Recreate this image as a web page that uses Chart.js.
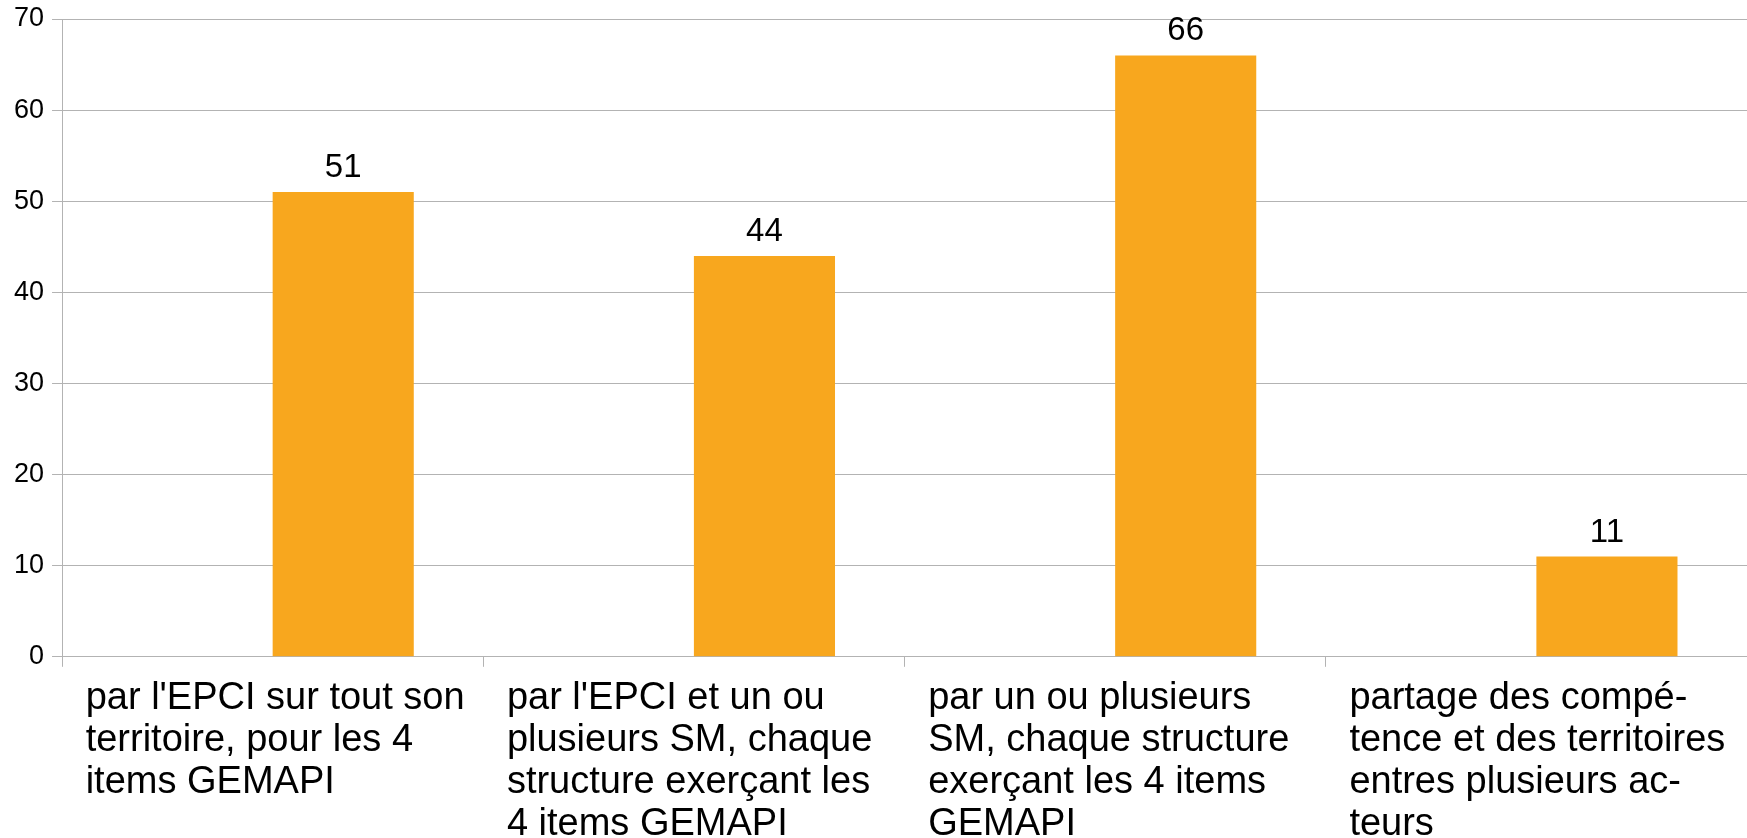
<!DOCTYPE html>
<html>
<head>
<meta charset="utf-8">
<script src="https://cdn.jsdelivr.net/npm/chart.js@4.4.1/dist/chart.umd.min.js"></script>
<style>
  body { margin: 0; background: #fff; overflow: hidden; }
  #wrap { width: 1747px; height: 856px; }
</style>
</head>
<body>
<div id="wrap"><canvas id="myChart"></canvas></div>
<script>
// ======== data ========
const categories = [
  ["par l'EPCI sur tout son", "territoire, pour les 4", "items GEMAPI"],
  ["par l'EPCI et un ou", "plusieurs SM, chaque", "structure exerçant les", "4 items GEMAPI"],
  ["par un ou plusieurs", "SM, chaque structure", "exerçant les 4 items", "GEMAPI"],
  ["partage des compé-", "tence et des territoires", "entres plusieurs ac-", "teurs"]
];
const emptySeries = [null, null, null, null];   // empty first series (leaves the gap left of each bar)
const values = [51, 44, 66, 11];
const yTicks = [0, 10, 20, 30, 40, 50, 60, 70];

const gridColor = '#b3b3b3';
const font = 'Liberation Sans';

// value labels above the bars
const valueLabels = {
  id: 'valueLabels',
  afterDatasetsDraw(chart) {
    const ctx = chart.ctx;
    const meta = chart.getDatasetMeta(1);
    ctx.save();
    ctx.font = '33px "' + font + '"';
    ctx.fillStyle = '#000';
    ctx.textAlign = 'center';
    ctx.textBaseline = 'alphabetic';
    meta.data.forEach((bar, i) => {
      ctx.fillText(String(values[i]), bar.x, bar.y - 15);
    });
    ctx.restore();
  }
};

const ctx = document.getElementById('myChart');

new Chart(ctx, {
  type: 'bar',
  data: {
    labels: categories,
    datasets: [{
      label: '',
      data: emptySeries,
      backgroundColor: '#004586'
    }, {
      label: 'Colonne B',
      data: values,
      backgroundColor: '#f8a71e'
    }]
  },
  options: {
    animation: false,
    responsive: true,
    maintainAspectRatio: false,
    categoryPercentage: 0.67,
    barPercentage: 1.0,
    layout: { padding: { top: 19, left: 6, right: 0, bottom: 0 } },
    plugins: {
      legend: { display: false },
      tooltip: { enabled: false }
    },
    scales: {
      x: {
        grid: {
          color: gridColor,
          drawOnChartArea: false,
          drawTicks: true,
          tickLength: 10,
          offset: true
        },
        border: { color: gridColor },
        ticks: {
          color: '#000',
          font: { family: font, size: 38, lineHeight: 1.1 },
          align: 'start',
          labelOffset: -187,
          autoSkip: false,
          maxRotation: 0,
          minRotation: 0,
          padding: 11
        },
        afterFit(scale) {
          scale.paddingLeft = 0;
          scale.paddingRight = 0;
        }
      },
      y: {
        min: 0,
        max: 70,
        afterBuildTicks(scale) {
          scale.ticks = yTicks.map(v => ({ value: v }));
        },
        afterFit(scale) {
          scale.paddingTop = 0;
          scale.paddingBottom = 0;
        },
        grid: {
          color: gridColor,
          tickLength: 10
        },
        border: { color: gridColor },
        ticks: {
          color: '#000',
          font: { family: font, size: 27 },
          padding: 8
        }
      },
      yRight: {
        position: 'right',
        min: 0,
        max: 70,
        grid: { display: false, drawOnChartArea: false, drawTicks: false },
        border: { display: true, color: gridColor },
        ticks: { display: false }
      }
    }
  },
  plugins: [valueLabels]
});
</script>
</body>
</html>
